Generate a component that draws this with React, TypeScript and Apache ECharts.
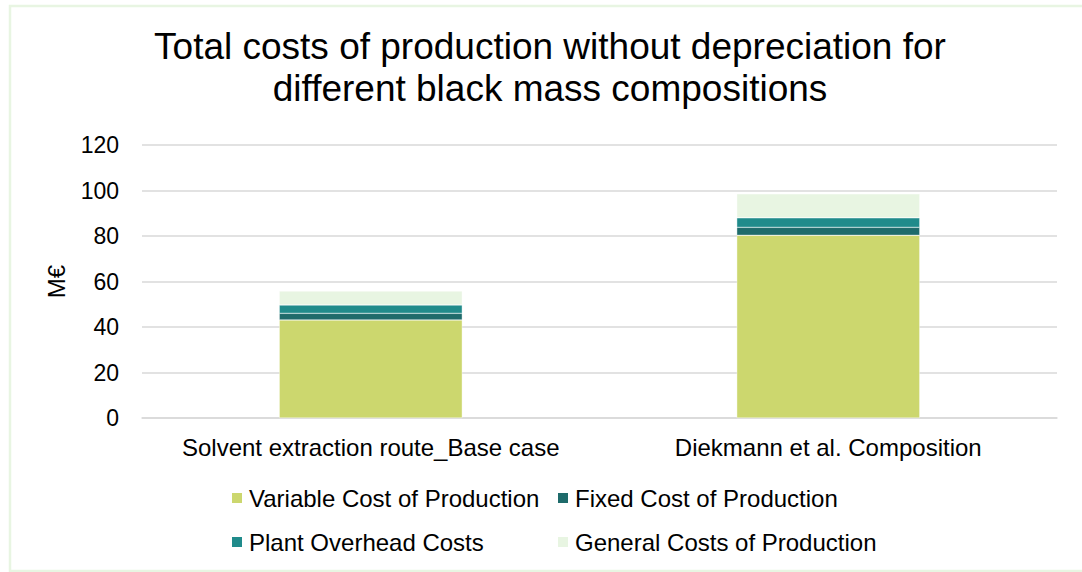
import React, { useEffect, useRef } from "react";
import * as echarts from "echarts";

const categories = ["Solvent extraction route_Base case", "Diekmann et al. Composition"];
const seriesNames = [
  "Variable Cost of Production",
  "Fixed Cost of Production",
  "Plant Overhead Costs",
  "General Costs of Production",
];
const variableCost = [43.1, 80.3];
const fixedCost = [2.9, 3.5];
const plantOverhead = [3.7, 4.2];
const generalCost = [6.1, 10.5];
const seriesColors = ["#CCD76E", "#1E6B6B", "#208B8B", "#E8F5E2"];
const yTicks = { min: 0, max: 120, interval: 20 };

const FONT = "'Liberation Sans', Arial, sans-serif";

export default function App() {
  const ref = useRef<HTMLDivElement>(null);

  useEffect(() => {
    document.body.style.margin = "0";
    const chart = echarts.init(ref.current!, null, { renderer: "svg" });
    const values = [variableCost, fixedCost, plantOverhead, generalCost];
    const legendPos = [
      { left: 230, top: 486 },
      { left: 556, top: 486 },
      { left: 230, top: 530 },
      { left: 556, top: 530 },
    ];
    chart.setOption({
      animation: false,
      backgroundColor: "#ffffff",
      textStyle: { fontFamily: FONT },
      graphic: [
        {
          type: "rect",
          shape: { x: 10, y: 6, width: 1100, height: 565 },
          style: { fill: "none", stroke: "#E8F5E2", lineWidth: 2.5 },
          silent: true,
        },
        {
          type: "text",
          x: 550,
          y: 25,
          style: {
            text: "Total costs of production without depreciation for\ndifferent black mass compositions",
            font: `37px ${FONT}`,
            fill: "#000000",
            textAlign: "center",
            textVerticalAlign: "top",
            lineHeight: 42,
          },
        },
      ],
      legend: seriesNames.map((name, i) => ({
        data: [name],
        left: legendPos[i].left,
        top: legendPos[i].top,
        padding: 0,
        itemWidth: 12,
        itemHeight: 12,
        itemGap: 6,
        icon: "rect",
        textStyle: { fontSize: 24, color: "#000", fontFamily: FONT, padding: [0, 0, 0, 1] },
        selectedMode: false,
      })),
      grid: { left: 142, right: 25, top: 145, bottom: 154 },
      xAxis: {
        type: "category",
        data: categories,
        axisLine: { lineStyle: { color: "#D9D9D9", width: 1.5 } },
        axisTick: { show: false },
        axisLabel: { interval: 0, fontSize: 24, color: "#000", margin: 17, fontFamily: FONT },
      },
      yAxis: {
        type: "value",
        min: yTicks.min,
        max: yTicks.max,
        interval: yTicks.interval,
        name: "M€",
        nameLocation: "middle",
        nameRotate: 90,
        nameGap: 74,
        nameTextStyle: { fontSize: 24, color: "#000", fontFamily: FONT },
        axisLine: { show: false },
        axisTick: { show: false },
        axisLabel: { fontSize: 23, color: "#000", margin: 23, fontFamily: FONT },
        splitLine: { lineStyle: { color: "#D9D9D9", width: 1.5 } },
      },
      series: seriesNames.map((name, i) => ({
        name,
        type: "bar",
        stack: "total",
        barWidth: 183,
        data: values[i],
        itemStyle: { color: seriesColors[i], borderColor: "#ffffff", borderWidth: 0.4 },
      })),
    });
    return () => chart.dispose();
  }, []);

  return <div ref={ref} style={{ position: "fixed", left: 0, top: 0, width: 1082, height: 572 }} />;
}
